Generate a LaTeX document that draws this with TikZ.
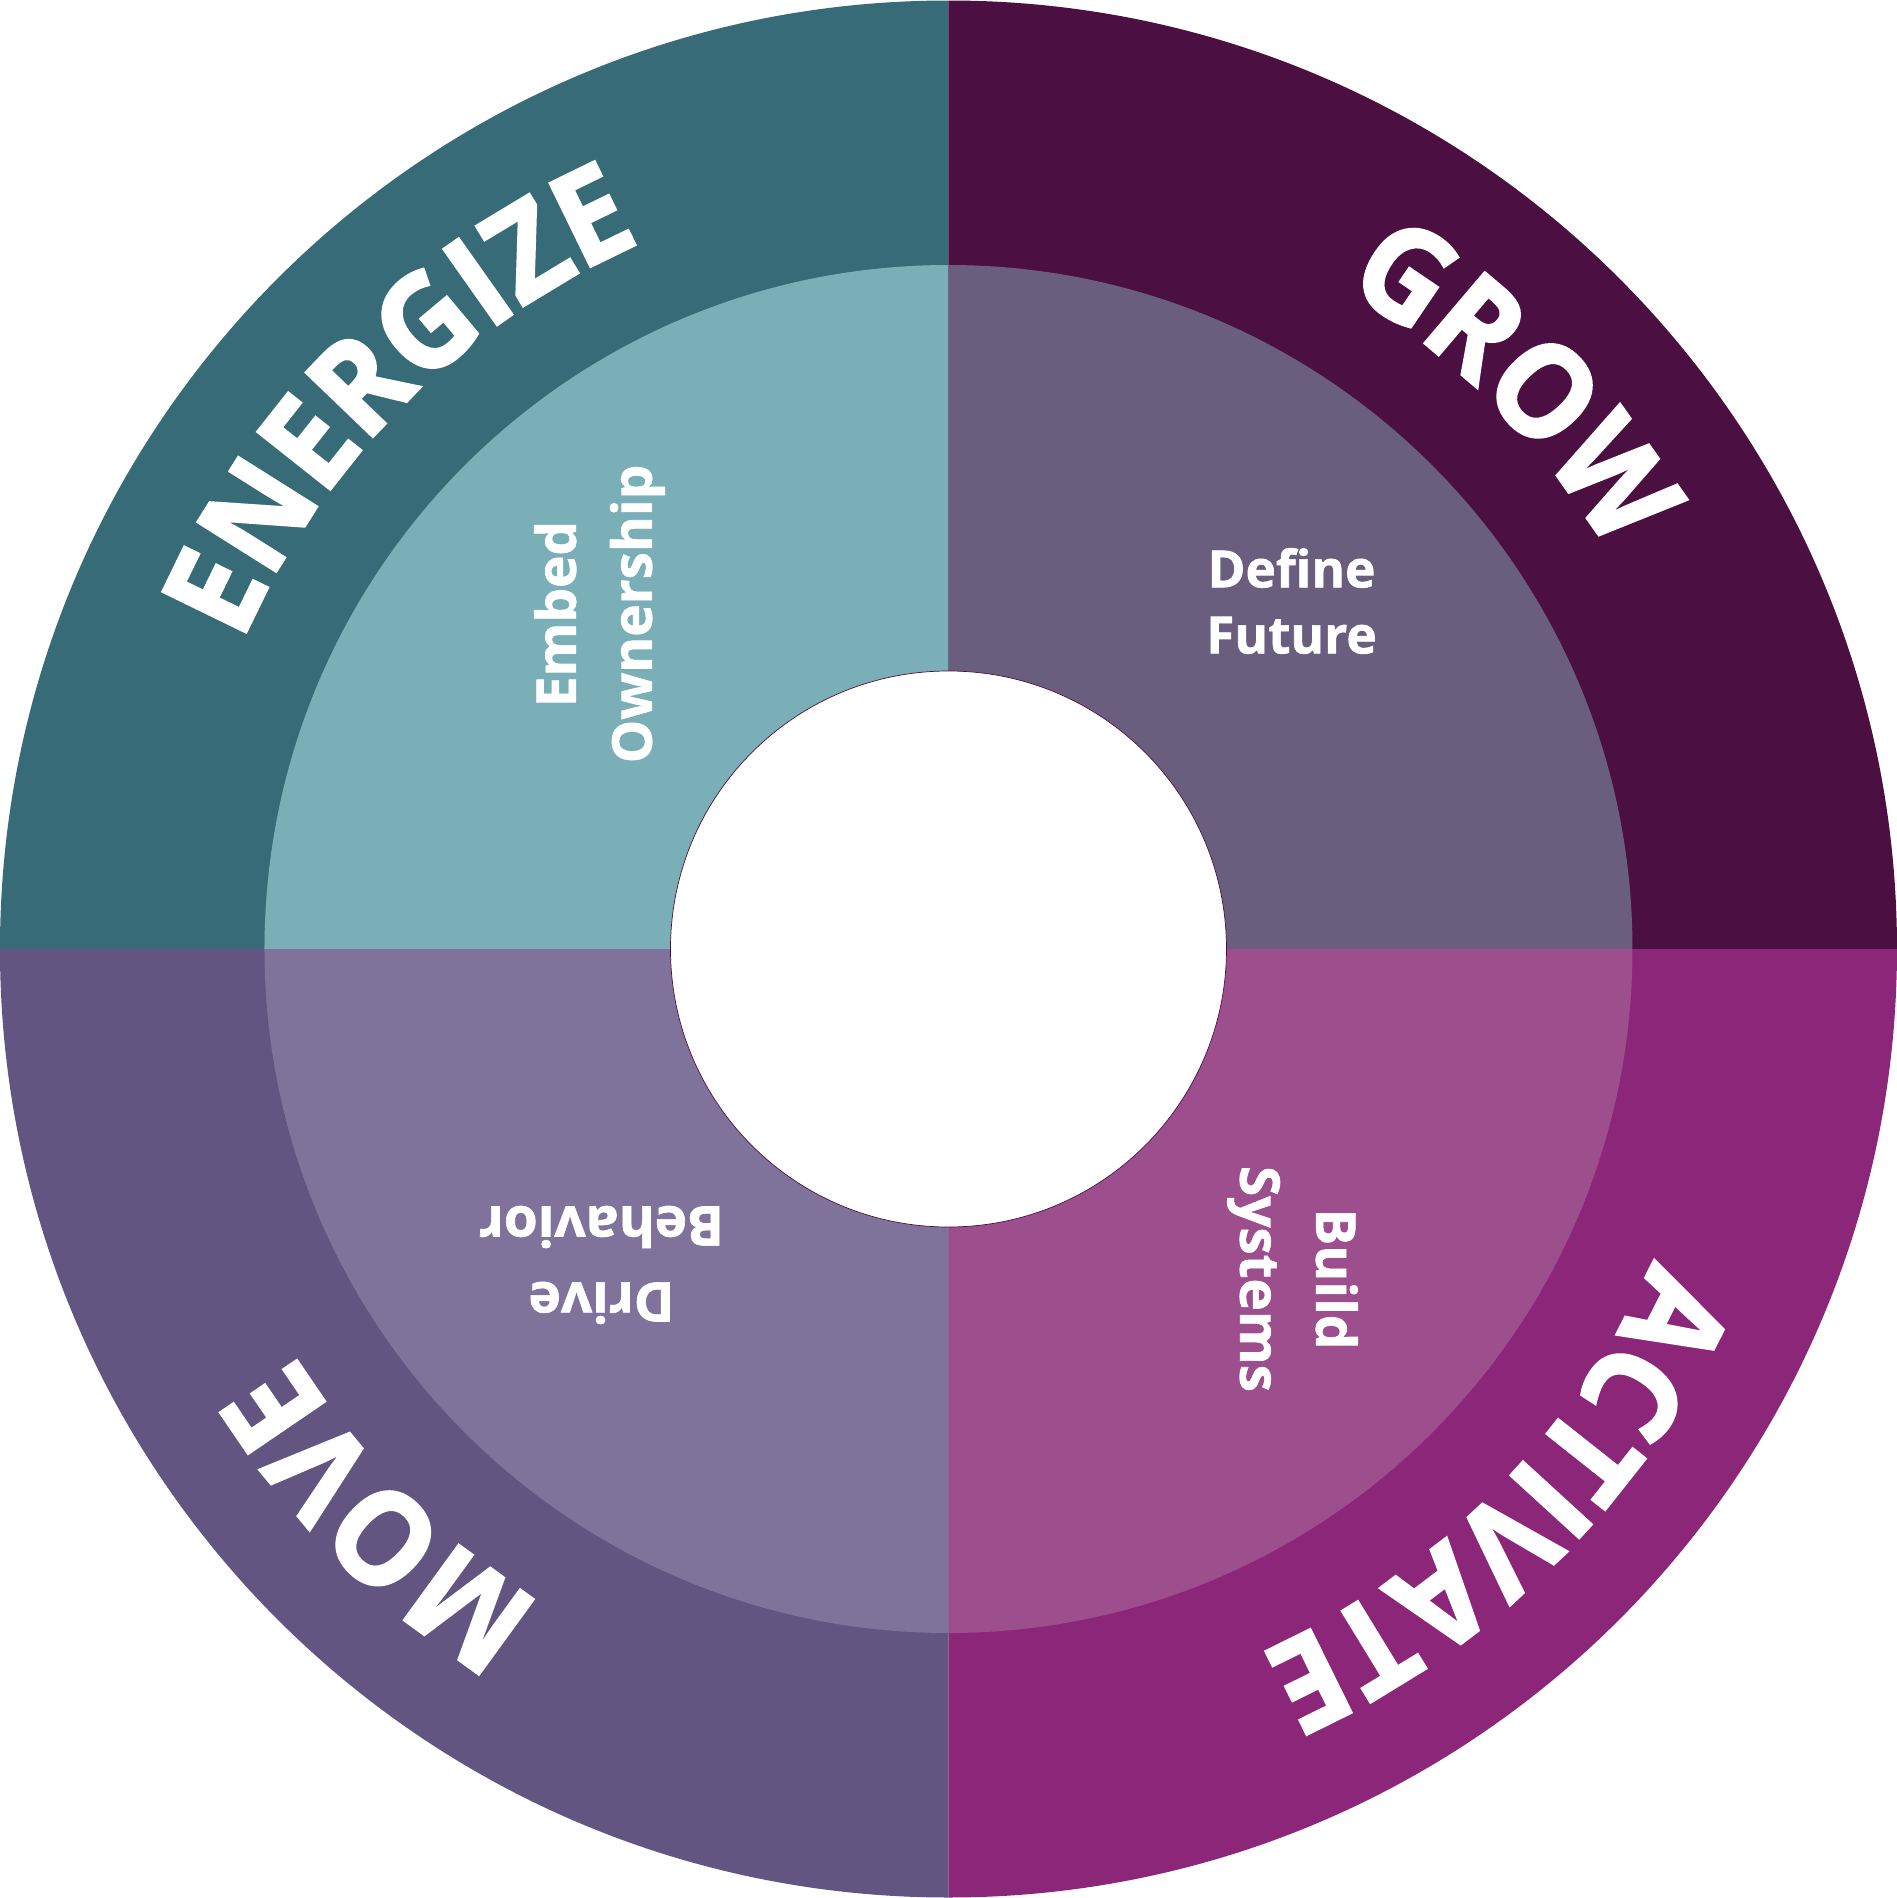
\documentclass[tikz,border=0pt]{standalone}
\usepackage{fontspec}
\setmainfont{Open Sans}
\newfontfamily\ringfont{Open Sans}[FakeStretch=0.93, BoldFeatures={FakeBold=2}]
\newfontfamily\stagefont{Open Sans}[BoldFeatures={FakeBold=1.2}]
\usepackage{xcolor}
\usepackage{tikz}
\usetikzlibrary{decorations.text}

\definecolor{energizeOuter}{HTML}{376B78}
\definecolor{energizeInner}{HTML}{7AAFB7}
\definecolor{growOuter}{HTML}{4B0F42}
\definecolor{growInner}{HTML}{6A5E7E}
\definecolor{activateOuter}{HTML}{8B2679}
\definecolor{activateInner}{HTML}{9D4E8D}
\definecolor{moveOuter}{HTML}{625581}
\definecolor{moveInner}{HTML}{80739B}

\tikzset{
  stagetext/.style={text=white, font=\stagefont\bfseries\fontsize{15.6}{21.6}\selectfont, align=center, inner sep=0pt},
  ringword/.style={decorate, decoration={text along path, text align=center, text color=white,
    text={|\ringfont\bfseries\fontsize{37}{40}\selectfont|#1}}}
}

\begin{document}
\begin{tikzpicture}
\useasboundingbox (-9.485,-9.49) rectangle (9.485,9.49);
% Outer ring
\fill[energizeOuter] (0,0) -- (180:9.485) arc[start angle=180, end angle=90, radius=9.485] -- cycle;
\fill[growOuter] (0,0) -- (90:9.485) arc[start angle=90, end angle=0, radius=9.485] -- cycle;
\fill[activateOuter] (0,0) -- (0:9.485) arc[start angle=0, end angle=-90, radius=9.485] -- cycle;
\fill[moveOuter] (0,0) -- (-90:9.485) arc[start angle=-90, end angle=-180, radius=9.485] -- cycle;
% Middle ring
\fill[energizeInner] (0,0) -- (180:6.84) arc[start angle=180, end angle=90, radius=6.84] -- cycle;
\fill[growInner] (0,0) -- (90:6.84) arc[start angle=90, end angle=0, radius=6.84] -- cycle;
\fill[activateInner] (0,0) -- (0:6.84) arc[start angle=0, end angle=-90, radius=6.84] -- cycle;
\fill[moveInner] (0,0) -- (-90:6.84) arc[start angle=-90, end angle=-180, radius=6.84] -- cycle;
% Hole
\filldraw[fill=white, draw=growOuter, line width=0.2pt] (0,0) circle (2.78);
% Ring words
\path[ringword=ENERGIZE] (180:7.7) arc[start angle=180, end angle=90, radius=7.7];
\path[ringword=GROW] (90:7.7) arc[start angle=90, end angle=0, radius=7.7];
\path[ringword=ACTIVATE] (0:7.7) arc[start angle=0, end angle=-90, radius=7.7];
\path[ringword=MOVE] (-90:7.7) arc[start angle=-90, end angle=-180, radius=7.7];
% Stages
\node[stagetext, font=\stagefont\bfseries\fontsize{14.6}{18.8}\selectfont] (define) at (3.43,3.48) {Define\\Future};
\node[stagetext, rotate=90] (embed) at (-3.49,3.35) {Embed\\Ownership};
\node[stagetext, rotate=-90] (build) at (3.44,-3.3) {Build\\Systems};
\node[stagetext, rotate=180] (drive) at (-3.47,-3.16) {Drive\\Behavior};
\end{tikzpicture}
\end{document}
